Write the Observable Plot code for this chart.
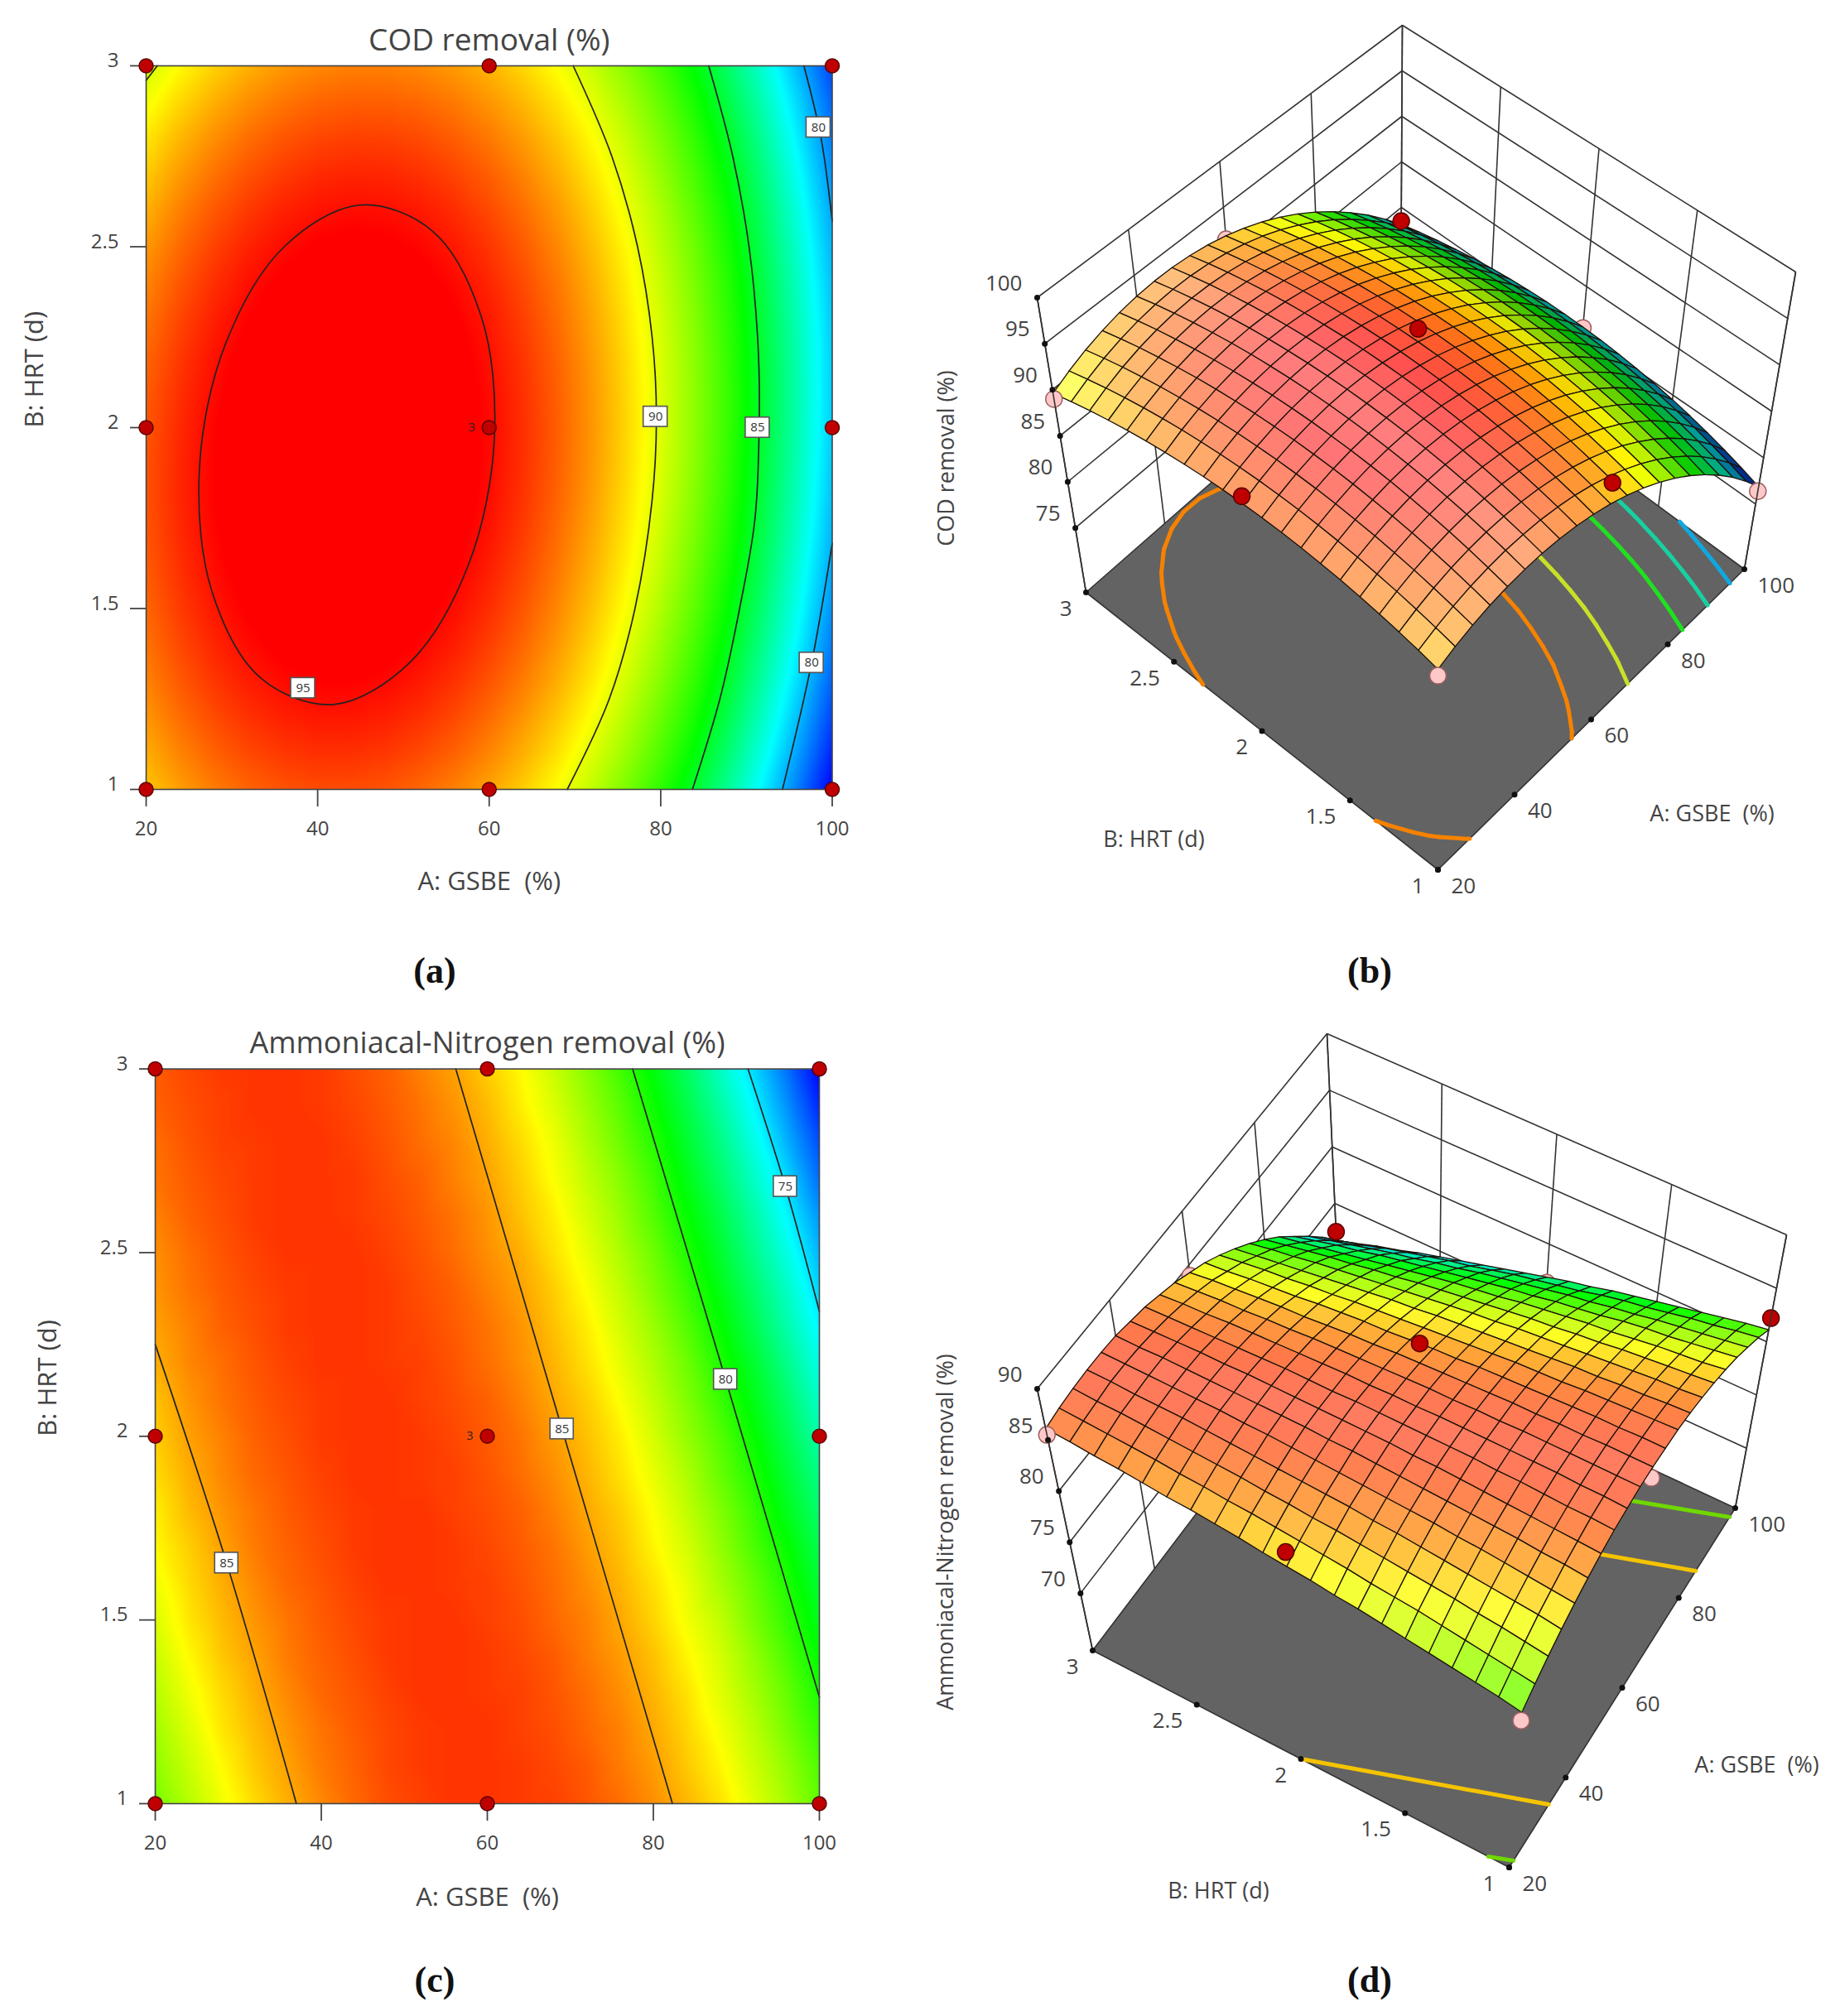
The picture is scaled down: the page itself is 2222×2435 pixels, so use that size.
<!DOCTYPE html>
<html><head><meta charset="utf-8">
<script src="https://cdn.jsdelivr.net/npm/d3@7"></script>
<script src="https://cdn.jsdelivr.net/npm/@observablehq/plot@0.6"></script>
<style>
html,body{margin:0;background:#fff}
#page{position:relative;width:2222px;height:2435px;overflow:hidden;font-family:"Open Sans",sans-serif}
#page svg{position:absolute;background:transparent}
.cap{position:absolute;font:bold 44px "Liberation Serif",serif;color:#111;transform:translate(-50%,-50%)}
</style></head><body><div id="page"></div>
<script>
// ---------- values ----------
const gsbe=[20,24,28,32,36,40,44,48,52,56,60,64,68,72,76,80,84,88,92,96,100];
const hrt=[1,1.1,1.2,1.3,1.4,1.5,1.6,1.7,1.8,1.9,2,2.1,2.2,2.3,2.4,2.5,2.6,2.7,2.8,2.9,3];
const gsbeTicks=[20,40,60,80,100];
const hrtTicks=[1,1.5,2,2.5,3];
const codRows=[
[91.55,92.34,92.97,93.43,93.74,93.88,93.87,93.70,93.36,92.87,92.22,91.40,90.43,89.30,88.00,86.55,84.93,83.16,81.23,79.13,76.88],
[92.05,92.84,93.47,93.95,94.26,94.42,94.41,94.25,93.92,93.44,92.79,91.98,91.02,89.89,88.61,87.16,85.56,83.79,81.86,79.78,77.53],
[92.47,93.27,93.91,94.40,94.72,94.88,94.88,94.73,94.41,93.93,93.29,92.49,91.54,90.42,89.14,87.70,86.11,84.35,82.43,80.35,78.12],
[92.84,93.65,94.30,94.79,95.12,95.29,95.30,95.15,94.84,94.37,93.75,92.96,92.01,90.90,89.63,88.20,86.61,84.86,82.95,80.88,78.65],
[93.14,93.96,94.62,95.12,95.46,95.64,95.65,95.51,95.21,94.75,94.13,93.35,92.41,91.30,90.04,88.62,87.04,85.30,83.40,81.33,79.11],
[93.39,94.21,94.88,95.39,95.73,95.92,95.95,95.81,95.52,95.06,94.45,93.68,92.74,91.65,90.40,88.98,87.41,85.68,83.78,81.73,79.52],
[93.57,94.40,95.08,95.59,95.95,96.14,96.18,96.05,95.77,95.32,94.71,93.95,93.02,91.94,90.69,89.29,87.72,86.00,84.11,82.06,79.86],
[93.69,94.54,95.22,95.74,96.10,96.31,96.35,96.23,95.95,95.51,94.92,94.16,93.24,92.16,90.93,89.53,87.97,86.25,84.38,82.34,80.14],
[93.76,94.61,95.30,95.83,96.20,96.41,96.46,96.35,96.08,95.65,95.06,94.31,93.40,92.33,91.10,89.71,88.16,86.45,84.58,82.55,80.36],
[93.75,94.61,95.31,95.84,96.22,96.44,96.50,96.40,96.14,95.71,95.13,94.39,93.49,92.43,91.21,89.83,88.28,86.58,84.72,82.70,80.52],
[93.68,94.55,95.26,95.80,96.19,96.41,96.48,96.39,96.13,95.72,95.15,94.41,93.52,92.47,91.25,89.88,88.34,86.65,84.80,82.78,80.61],
[93.56,94.43,95.14,95.70,96.09,96.33,96.40,96.32,96.07,95.67,95.10,94.37,93.49,92.44,91.24,89.87,88.35,86.66,84.81,82.81,80.64],
[93.37,94.25,94.97,95.54,95.94,96.18,96.26,96.19,95.95,95.55,94.99,94.27,93.40,92.36,91.16,89.80,88.29,86.61,84.77,82.77,80.62],
[93.11,94.00,94.73,95.30,95.71,95.96,96.05,95.98,95.75,95.37,94.82,94.11,93.24,92.21,91.02,89.67,88.16,86.49,84.66,82.67,80.52],
[92.80,93.70,94.44,95.02,95.44,95.70,95.79,95.73,95.51,95.13,94.59,93.89,93.03,92.00,90.82,89.48,87.98,86.32,84.50,82.51,80.37],
[92.43,93.33,94.08,94.67,95.09,95.36,95.47,95.41,95.20,94.83,94.29,93.60,92.74,91.73,90.56,89.22,87.73,86.08,84.26,82.29,80.16],
[91.99,92.90,93.66,94.25,94.69,94.96,95.08,95.03,94.83,94.46,93.93,93.25,92.40,91.40,90.23,88.91,87.42,85.78,83.97,82.00,79.88],
[91.48,92.41,93.17,93.77,94.21,94.50,94.62,94.58,94.38,94.03,93.51,92.83,91.99,90.99,89.84,88.52,87.04,85.40,83.61,81.65,79.53],
[90.93,91.86,92.63,93.24,93.69,93.98,94.11,94.08,93.89,93.54,93.03,92.36,91.53,90.54,89.39,88.08,86.61,84.98,83.19,81.24,79.13],
[90.30,91.24,92.02,92.63,93.09,93.39,93.53,93.51,93.33,92.99,92.48,91.82,91.00,90.02,88.88,87.58,86.11,84.49,82.71,80.77,78.67],
[89.61,90.56,91.35,91.97,92.44,92.74,92.89,92.88,92.70,92.37,91.88,91.22,90.41,89.44,88.30,87.01,85.55,83.94,82.17,80.22,78.14]];
const nh3Rows=[
[81.4,82.4,83.3,84.1,84.8,85.4,85.9,86.3,86.5,86.7,86.7,86.6,86.5,86.2,85.8,85.3,84.7,84.0,83.1,82.2,81.1],
[81.8,82.7,83.6,84.4,85.0,85.6,86.0,86.4,86.6,86.7,86.7,86.6,86.4,86.1,85.6,85.1,84.4,83.7,82.8,81.9,80.8],
[82.1,83.0,83.9,84.6,85.2,85.7,86.1,86.4,86.6,86.7,86.7,86.5,86.3,85.9,85.5,84.9,84.2,83.4,82.5,81.5,80.4],
[82.4,83.3,84.1,84.8,85.4,85.9,86.2,86.5,86.7,86.7,86.6,86.5,86.2,85.8,85.3,84.7,84.0,83.1,82.2,81.2,80.0],
[82.7,83.6,84.4,85.0,85.6,86.0,86.3,86.6,86.7,86.7,86.6,86.4,86.1,85.6,85.1,84.5,83.7,82.9,81.9,80.8,79.6],
[83.0,83.9,84.6,85.2,85.7,86.1,86.4,86.6,86.7,86.7,86.5,86.3,85.9,85.5,84.9,84.2,83.4,82.6,81.5,80.4,79.2],
[83.3,84.1,84.8,85.4,85.9,86.2,86.5,86.7,86.7,86.6,86.5,86.2,85.8,85.3,84.7,84.0,83.2,82.2,81.2,80.1,78.8],
[83.6,84.3,85.0,85.6,86.0,86.3,86.6,86.7,86.7,86.6,86.4,86.1,85.7,85.1,84.5,83.7,82.9,81.9,80.8,79.7,78.4],
[83.8,84.6,85.2,85.7,86.1,86.4,86.6,86.7,86.7,86.5,86.3,86.0,85.5,84.9,84.3,83.5,82.6,81.6,80.5,79.2,77.9],
[84.1,84.8,85.4,85.9,86.2,86.5,86.7,86.7,86.6,86.5,86.2,85.8,85.3,84.7,84.0,83.2,82.3,81.2,80.1,78.8,77.5],
[84.3,85.0,85.5,86.0,86.3,86.6,86.7,86.7,86.6,86.4,86.1,85.7,85.1,84.5,83.8,82.9,81.9,80.9,79.7,78.4,77.0],
[84.5,85.2,85.7,86.1,86.4,86.6,86.7,86.7,86.5,86.3,86.0,85.5,84.9,84.3,83.5,82.6,81.6,80.5,79.3,78.0,76.5],
[84.8,85.4,85.8,86.2,86.5,86.7,86.7,86.6,86.5,86.2,85.8,85.3,84.7,84.0,83.2,82.3,81.3,80.1,78.9,77.5,76.0],
[85.0,85.5,86.0,86.3,86.6,86.7,86.7,86.6,86.4,86.1,85.7,85.2,84.5,83.8,82.9,82.0,80.9,79.7,78.4,77.0,75.5],
[85.2,85.7,86.1,86.4,86.6,86.7,86.7,86.6,86.3,86.0,85.5,85.0,84.3,83.5,82.6,81.6,80.5,79.3,78.0,76.6,75.0],
[85.3,85.8,86.2,86.5,86.7,86.7,86.7,86.5,86.2,85.8,85.3,84.8,84.0,83.2,82.3,81.3,80.1,78.9,77.5,76.1,74.5],
[85.5,86.0,86.3,86.6,86.7,86.7,86.6,86.4,86.1,85.7,85.2,84.5,83.8,82.9,82.0,80.9,79.7,78.5,77.1,75.6,74.0],
[85.7,86.1,86.4,86.6,86.7,86.7,86.6,86.3,86.0,85.5,85.0,84.3,83.5,82.6,81.7,80.6,79.3,78.0,76.6,75.1,73.4],
[85.8,86.2,86.5,86.6,86.7,86.7,86.5,86.2,85.8,85.4,84.8,84.1,83.3,82.3,81.3,80.2,78.9,77.6,76.1,74.5,72.9],
[86.0,86.3,86.5,86.7,86.7,86.6,86.4,86.1,85.7,85.2,84.6,83.8,83.0,82.0,81.0,79.8,78.5,77.1,75.6,74.0,72.3],
[86.1,86.4,86.6,86.7,86.7,86.6,86.3,86.0,85.5,85.0,84.3,83.6,82.7,81.7,80.6,79.4,78.1,76.6,75.1,73.5,71.7]];
const designA=[20,60,100,20,60,100,20,60,100];
const designB=[1,1,1,2,2,2,3,3,3];
const codDesign=[90.8,94.6,76.4,94.5,96.6,80.5,89,91.5,78.5];
const nh3Design=[80.5,85.6,82.2,85.8,88,76.5,85.5,84,72.5];
const codLabels=[["90",79.4,2.03],["85",91.3,2.0],["80",98.4,2.83],["80",97.6,1.35],["95",38.3,1.28]];
const nh3Labels=[["85",28.6,1.655],["85",69,2.02],["80",88.7,2.155],["75",95.9,2.68]];
// contour lines, [GSBE, HRT]
const cod95=[[60.6,1.97],[59.05,2.309],[53.3,2.545],[44.9,2.615],[36.1,2.5],[29.25,2.231],[26.2,1.88],[27.75,1.541],[33.5,1.305],[41.9,1.235],[50.7,1.35],[57.55,1.619]];
const cod90=[[69.8,3],[74.3,2.75],[77.3,2.5],[79,2.25],[79.5,2.03],[79,1.8],[77,1.5],[74,1.25],[69.1,1]];
const cod85=[[85.6,3],[88.4,2.75],[90.3,2.5],[91.3,2.25],[91.5,2.05],[91,1.75],[89.2,1.5],[86.9,1.25],[83.7,1]];
const cod80a=[[96.7,3],[98.7,2.8],[100,2.57]];
const cod80b=[[94.2,1],[97.6,1.35],[100,1.68]];
const codCorner=[[20,2.96],[21.3,3]];
const codLines=[cod90,cod85,cod80a,cod80b,codCorner];
const codLoops=[cod95];
const nh3a=[[20,2.25],[28.6,1.655],[37,1]];
const nh3b=[[56.2,3],[69,2.02],[82.3,1]];
const nh3c=[[77.5,3],[88.7,2.155],[100,1.29]];
const nh3d=[[91.4,3],[95.9,2.68],[100,2.34]];
const nh3Lines=[nh3a,nh3b,nh3c,nh3d];
// floor contours of the 3D panels
const codFloorLevels=[93,90,85,82,79];
const codFloorColors=["#f58200","#c8e028","#20e020","#18d0a0","#10a8e0"];
const codFloorMinA=[20,40,20,20,20];
const nh3FloorLines=[[[20,2],[34,1]],[[86,1],[60,3]],[[98,1],[72,3]],[[20,1.1],[21.5,1]]];
const nh3FloorColors=["#f5c400","#f5c400","#70d800","#70d800"];
const codZTicks=[75,80,85,90,95,100];
const nh3ZTicks=[70,75,80,85,90];
const heatColors=["#0000ff","#00ffff","#00ff00","#ffff00","#ff0000"];
const codHeatStops=[76.9,81.5,85.7,90.5,95.3];
const nh3HeatStops=[71.7,75.65,79.6,83.55,87.5];
const codSurfaceStops=[76.9,81.5,85.7,90.5,96];
const nh3SurfaceStops=[71.7,75.65,80,84.3,87.2];
// ---------- helpers ----------
const page=document.getElementById("page");
const tickFont=24, axisFont=31, font='"Open Sans",sans-serif', ink="#444";
function place(svg,left,top){svg.style.left=left+"px";svg.style.top=top+"px";page.appendChild(svg);}
function caption(t,x,y){const d=document.createElement("div");d.className="cap";d.textContent=t;d.style.left=x+"px";d.style.top=y+"px";page.appendChild(d);}
const flat=rows=>rows.flatMap((r,j)=>r.map((z,i)=>({a:gsbe[i],b:hrt[j],z})));
// ---------- contour panels ----------
function contourPanel(o){
  const pts=flat(o.rows);
  const W=1111,H=o.h;
  const design=designA.map((a,i)=>({a,b:designB[i]}));
  const svg=Plot.plot({width:W,height:H,marginLeft:o.l,marginRight:W-o.r,marginTop:o.t,marginBottom:H-o.bot,
    style:{fontFamily:font,color:ink,background:"transparent"},
    x:{domain:[20,100],axis:null},y:{domain:[1,3],axis:null},
    color:{type:"linear",domain:o.stops,range:heatColors,interpolate:"rgb"},
    marks:[
      Plot.raster(pts,{x:"a",y:"b",fill:"z",x1:20,x2:100,y1:1,y2:3,interpolate:"barycentric",pixelSize:2}),
      ...o.lines.map(l=>Plot.line(l,{x:d=>d[0],y:d=>d[1],curve:"catmull-rom",stroke:"#222",strokeWidth:1.7})),
      ...(o.loops||[]).map(l=>Plot.line(l,{x:d=>d[0],y:d=>d[1],curve:"catmull-rom-closed",stroke:"#222",strokeWidth:1.7})),
      Plot.frame({stroke:"#444",strokeWidth:1.6}),
      Plot.axisX({ticks:gsbeTicks,tickSize:21,tickPadding:0,stroke:"#444",strokeWidth:1.8,tickFormat:()=>"",label:null}),
      Plot.axisY({ticks:hrtTicks,tickSize:19,tickPadding:0,stroke:"#444",strokeWidth:1.8,tickFormat:()=>"",label:null}),
      Plot.axisX({ticks:gsbeTicks,tickSize:0,tickPadding:38,fontSize:tickFont,label:null,fill:ink,tickFormat:d=>d}),
      Plot.axisY({ticks:hrtTicks,tickSize:0,tickPadding:33,fontSize:tickFont,label:null,fill:ink,dy:-6,tickFormat:d=>d}),
      Plot.rect(o.labels,{x1:d=>d[1]-1.4,x2:d=>d[1]+1.4,y1:d=>d[2]-.028,y2:d=>d[2]+.028,fill:"#fff",stroke:"#555",strokeWidth:1.6}),
      Plot.text(o.labels,{x:d=>d[1],y:d=>d[2],text:d=>d[0],fontSize:15,fill:"#333"}),
      Plot.dot(design,{x:"a",y:"b",r:8.5,fill:"#c00000",stroke:"#5a0000",strokeWidth:1.5,clip:false}),
      Plot.text([{a:60,b:2}],{x:"a",y:"b",text:()=>"3",dx:-21,fontSize:14,fill:"#222"}),
      Plot.text([o.title],{frameAnchor:"top",lineAnchor:"middle",dy:o.titleDy,fontSize:o.titleSize,fill:"#444"}),
      Plot.text(["A: GSBE  (%)"],{frameAnchor:"bottom",lineAnchor:"middle",dy:o.xDy,fontSize:axisFont,fill:ink}),
      Plot.text(["B: HRT (d)"],{frameAnchor:"left",rotate:-90,lineAnchor:"middle",dx:o.yDx,fontSize:axisFont,fill:ink})
    ]});
  place(svg,0,o.top);
}
// ---------- perspective box panels ----------
function makeProj(c,zmin,zmax){
  const lerp=(p,q,t)=>[p[0]+(q[0]-p[0])*t,p[1]+(q[1]-p[1])*t];
  const bil=(s,u,v)=>lerp(lerp(s.F,s.R,u),lerp(s.L,s.K,u),v);
  return (a,b,z)=>{const u=(a-20)/80,v=(b-1)/2,w=(z-zmin)/(zmax-zmin);return lerp(bil(c.floor,u,v),bil(c.top,u,v),w);};
}
function segments(rows,level,color,minA){
  const out=[];
  for(let j=0;j<20;j++)for(let i=0;i<20;i++){
    if(gsbe[i]<minA)continue;
    const c=[[gsbe[i],hrt[j],rows[j][i]],[gsbe[i+1],hrt[j],rows[j][i+1]],[gsbe[i+1],hrt[j+1],rows[j+1][i+1]],[gsbe[i],hrt[j+1],rows[j+1][i]]];
    const hit=[];
    for(let k=0;k<4;k++){const p=c[k],q=c[(k+1)%4];
      if((p[2]-level)*(q[2]-level)<0){const t=(level-p[2])/(q[2]-p[2]);hit.push([p[0]+(q[0]-p[0])*t,p[1]+(q[1]-p[1])*t]);}}
    if(hit.length>=2)out.push({p:hit[0],q:hit[1],color});
  }
  return out;
}
function surfacePanel(o){
  const [x0,y0,W,H]=o.view;
  const P=makeProj(o.corners,o.zmin,o.zmax), z0=o.zmin, z1=o.zmax;
  const heat=d3.scaleLinear().domain(o.stops).range(heatColors).interpolate(d3.interpolateRgb).clamp(true);
  const shade=(col,s)=>s>=0?d3.interpolateRgb(col,"#fff")(Math.min(1,s)*o.pale):d3.interpolateRgb(col,"#000")(Math.min(1,-s)*o.dark);
  const cells=[];
  for(let sum=38;sum>=0;sum--)for(let i=Math.min(19,sum);i>=0&&sum-i<20;i--){
    const j=sum-i,r=o.rows;
    const mean=(r[j][i]+r[j][i+1]+r[j+1][i]+r[j+1][i+1])/4;
    const dA=((r[j][i+1]+r[j+1][i+1])-(r[j][i]+r[j+1][i]))/8;
    const col=shade(heat(mean),dA>0?o.s0-o.sf*dA:o.s0+o.sk*dA);
    [[i,j],[i+1,j],[i+1,j+1],[i,j+1],[i,j]].forEach(([m,n])=>{
      const q=P(gsbe[m],hrt[n],r[n][m]);cells.push({id:j*21+i,x:q[0],y:q[1],col});});
  }
  const line=(pts,opts)=>Plot.line(pts,{x:d=>d[0],y:d=>d[1],...opts});
  const link=(list,opts)=>Plot.link(list,{x1:d=>d[0][0],y1:d=>d[0][1],x2:d=>d[1][0],y2:d=>d[1][1],...opts});
  const walls=[];
  o.zTicks.forEach(z=>{walls.push([P(20,3,z),P(100,3,z)],[P(100,3,z),P(100,1,z)]);});
  gsbeTicks.forEach(a=>walls.push([P(a,3,z0),P(a,3,z1)]));
  hrtTicks.forEach(b=>walls.push([P(100,b,z0),P(100,b,z1)]));
  const floor=[[20,1],[100,1],[100,3],[20,3],[20,1]].map(([a,b])=>P(a,b,z0));
  const floorSegs=o.floorLevels?o.floorLevels.flatMap((l,i)=>segments(o.rows,l,o.floorColors[i],o.floorMinA[i])):
    o.floorLines.map((l,i)=>({p:l[0],q:l[1],color:o.floorColors[i]}));
  const design=designA.map((a,i)=>({a,b:designB[i],z:o.design[i],p:P(a,designB[i],o.design[i]),hi:o.design[i]>=o.surfaceAt(a,designB[i])}));
  const under=design.filter(d=>o.hidden.includes([20,60,100].indexOf(d.a)+"/"+d.b));
  const over=design.filter(d=>!under.includes(d));
  const dotOpts={x:d=>d.p[0],y:d=>d.p[1],r:10,strokeWidth:1.5,fill:d=>d.hi?"#c00000":"#ffc8c8",stroke:d=>d.hi?"#5a0000":"#a06060"};
  const tickDots=[...o.zTicks.map(z=>P(20,3,z)),...hrtTicks.map(b=>P(20,b,z0)),...gsbeTicks.map(a=>P(a,1,z0))];
  const lab=(list,opts)=>Plot.text(list,{x:d=>d[0][0],y:d=>d[0][1],text:d=>d[1],fontSize:26,fill:ink,...opts});
  const svg=Plot.plot({width:W,height:H,margin:0,
    style:{fontFamily:font,background:"transparent"},
    x:{domain:[x0,x0+W],range:[0,W],axis:null},y:{domain:[y0,y0+H],range:[0,H],axis:null},
    marks:[
      link(walls,{stroke:"#333",strokeWidth:1.6}),
      line(floor,{fill:"#636363",stroke:"#333",strokeWidth:1.6}),
      link(floorSegs.map(s=>Object.assign([P(s.p[0],s.p[1],z0),P(s.q[0],s.q[1],z0)],{color:s.color})),{stroke:d=>d.color,strokeWidth:5,strokeLinecap:"round"}),
      Plot.dot(under,dotOpts),
      Plot.line(cells,{x:"x",y:"y",z:"id",fill:"col",stroke:"#1c1208",strokeWidth:1.3}),
      Plot.dot(over,dotOpts),
      link([[P(20,3,z0),P(20,3,z1)],[P(100,1,z0),P(100,1,z1)]],{stroke:"#333",strokeWidth:1.6}),
      Plot.dot(tickDots,{x:d=>d[0],y:d=>d[1],r:3.5,fill:"#111"}),
      lab(o.zTicks.map(z=>[P(20,3,z),String(z)]),{textAnchor:"end",dx:-18,dy:-17}),
      lab(hrtTicks.map(b=>[P(20,b,z0),String(b)]),{textAnchor:"end",dx:-17,dy:20}),
      lab(gsbeTicks.map(a=>[P(a,1,z0),String(a)]),{textAnchor:"start",dx:16,dy:20}),
      lab([[o.aTitle,"A: GSBE  (%)"]],{fontSize:27}),
      lab([[o.bTitle,"B: HRT (d)"]],{fontSize:27}),
      lab([[o.zTitle[0],o.zTitle[1]]],{rotate:-90,fontSize:27})
    ]});
  place(svg,x0,y0);
}
// ---------- draw ----------
contourPanel({rows:codRows,top:0,h:1190,l:176,r:1004.5,t:79,bot:953,stops:codHeatStops,lines:codLines,loops:codLoops,labels:codLabels,title:"COD removal (%)",titleSize:37,titleDy:-30,xDy:112,yDx:-134});
contourPanel({rows:nh3Rows,top:1200,h:1190,l:187,r:989,t:90.6,bot:978,stops:nh3HeatStops,lines:nh3Lines,labels:nh3Labels,title:"Ammoniacal-Nitrogen removal (%)",titleSize:36,titleDy:-31,xDy:114,yDx:-129});
const nearest=(rows,a,b)=>rows[Math.round((b-1)*10)][Math.round((a-20)/4)];
surfacePanel({view:[1100,0,1122,1190],rows:codRows,zmin:68,zmax:100,stops:codSurfaceStops,
  corners:{floor:{F:[1736,1050],R:[2106,687],L:[1311,715],K:[1691,382]},top:{F:[1736,721],R:[2168,328],L:[1252,359],K:[1693,30]}},
  zTicks:codZTicks,design:codDesign,floorLevels:codFloorLevels,floorColors:codFloorColors,floorMinA:codFloorMinA,
  surfaceAt:(a,b)=>nearest(codRows,a,b),hidden:["1/3","2/2"],pale:.58,dark:.55,s0:.85,sk:3,sf:.6,
  aTitle:[2067,983],bTitle:[1393,1014],zTitle:[[1143,553],"COD removal (%)"]});
surfacePanel({view:[1100,1200,1122,1190],rows:nh3Rows,zmin:64.4,zmax:90,stops:nh3SurfaceStops,
  corners:{floor:{F:[1822,2255],R:[2095,1821],L:[1319,1993],K:[1618,1598]},top:{F:[1845,1973],R:[2157,1491],L:[1252,1677],K:[1602,1248]}},
  zTicks:nh3ZTicks,design:nh3Design,floorLines:nh3FloorLines,floorColors:nh3FloorColors,
  surfaceAt:(a,b)=>nearest(nh3Rows,a,b),hidden:["1/1","1/3","2/2"],pale:.42,dark:.45,s0:.9,sk:3,sf:2,
  aTitle:[2121,2132],bTitle:[1471,2284],zTitle:[[1142,1850],"Ammoniacal-Nitrogen removal (%)"]});
caption("(a)",525,1172);caption("(b)",1654,1172);caption("(c)",525,2391);caption("(d)",1654,2391);
</script></body></html>
